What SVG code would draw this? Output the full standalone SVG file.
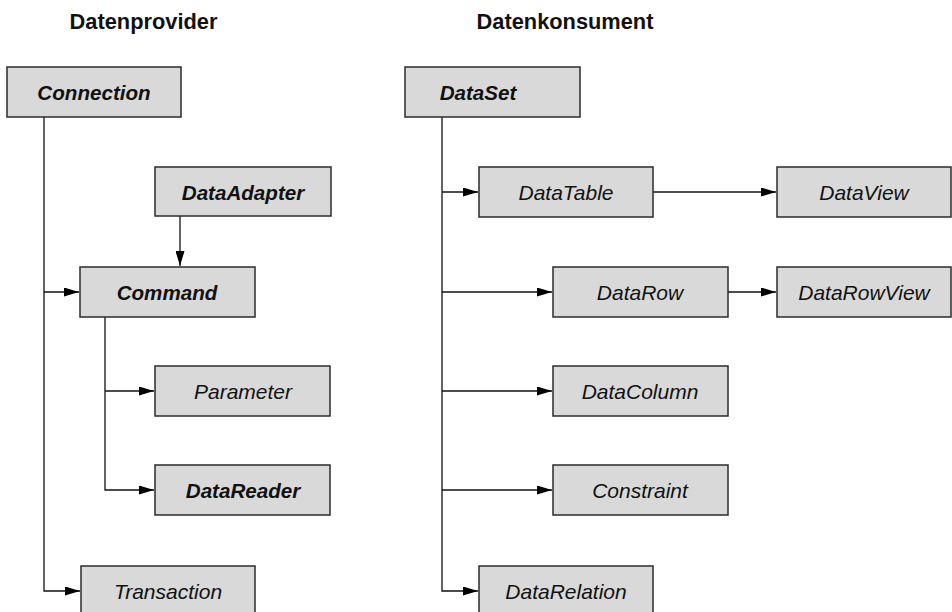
<svg xmlns="http://www.w3.org/2000/svg" width="952" height="612" viewBox="0 0 952 612">
<style>
.box{fill:#d9d9d9;stroke:#2b2b2b;stroke-width:1.5}
.t{font-family:"Liberation Sans",Arial,sans-serif;font-size:21px;font-style:italic;fill:#111;text-anchor:middle;dominant-baseline:central}
.b{font-weight:bold;font-size:20.6px}
.h{font-family:"Liberation Sans",Arial,sans-serif;font-size:21.8px;font-weight:bold;fill:#111;text-anchor:middle}
.c{fill:none;stroke:#111;stroke-width:1.3}
</style>
<defs>
<marker id="ah" markerWidth="15" markerHeight="9" refX="15" refY="4.5" orient="auto" markerUnits="userSpaceOnUse">
<path d="M0,0 L15,4.5 L0,9 Z" fill="#000"/>
</marker>
</defs>
<rect width="952" height="612" fill="#fff"/>
<text class="h" x="143.5" y="29">Datenprovider</text>
<text class="h" x="565" y="29">Datenkonsument</text>
<g id="connectors">
<path class="c" d="M44,117 V591 H80" marker-end="url(#ah)"/>
<path class="c" d="M44,292 H79" marker-end="url(#ah)"/>
<path class="c" d="M180,216 V266" marker-end="url(#ah)"/>
<path class="c" d="M105,317 V490 H154" marker-end="url(#ah)"/>
<path class="c" d="M105,391 H154" marker-end="url(#ah)"/>
<path class="c" d="M442,117 V591 H478" marker-end="url(#ah)"/>
<path class="c" d="M442,192 H478" marker-end="url(#ah)"/>
<path class="c" d="M442,292 H552" marker-end="url(#ah)"/>
<path class="c" d="M442,391 H552" marker-end="url(#ah)"/>
<path class="c" d="M442,490 H552" marker-end="url(#ah)"/>
<path class="c" d="M653,192 H776" marker-end="url(#ah)"/>
<path class="c" d="M728,292 H776" marker-end="url(#ah)"/>
</g>
<g id="Connection"><rect class="box" x="7" y="67" width="174" height="50"/><text class="t b" x="94" y="92">Connection</text></g>
<g id="DataAdapter"><rect class="box" x="155" y="167" width="176" height="49"/><text class="t b" x="243" y="192">DataAdapter</text></g>
<g id="Command"><rect class="box" x="80" y="267" width="175" height="50"/><text class="t b" x="167" y="292">Command</text></g>
<g id="Parameter"><rect class="box" x="155" y="366" width="175" height="50"/><text class="t" x="243" y="391">Parameter</text></g>
<g id="DataReader"><rect class="box" x="155" y="465" width="175" height="50"/><text class="t b" x="243" y="490">DataReader</text></g>
<g id="Transaction"><rect class="box" x="81" y="566" width="174" height="50"/><text class="t" x="168" y="591">Transaction</text></g>
<g id="DataSet"><rect class="box" x="405" y="67" width="175" height="50"/><text class="t b" x="478" y="92">DataSet</text></g>
<g id="DataTable"><rect class="box" x="479" y="167" width="174" height="50"/><text class="t" x="566" y="192">DataTable</text></g>
<g id="DataView"><rect class="box" x="777" y="167" width="174" height="50"/><text class="t" x="864" y="192">DataView</text></g>
<g id="DataRow"><rect class="box" x="553" y="267" width="175" height="50"/><text class="t" x="640" y="292">DataRow</text></g>
<g id="DataRowView"><rect class="box" x="777" y="267" width="174" height="50"/><text class="t" x="864" y="292">DataRowView</text></g>
<g id="DataColumn"><rect class="box" x="553" y="366" width="175" height="50"/><text class="t" x="640" y="391">DataColumn</text></g>
<g id="Constraint"><rect class="box" x="553" y="465" width="175" height="50"/><text class="t" x="640" y="490">Constraint</text></g>
<g id="DataRelation"><rect class="box" x="479" y="566" width="174" height="50"/><text class="t" x="566" y="591">DataRelation</text></g>
</svg>
